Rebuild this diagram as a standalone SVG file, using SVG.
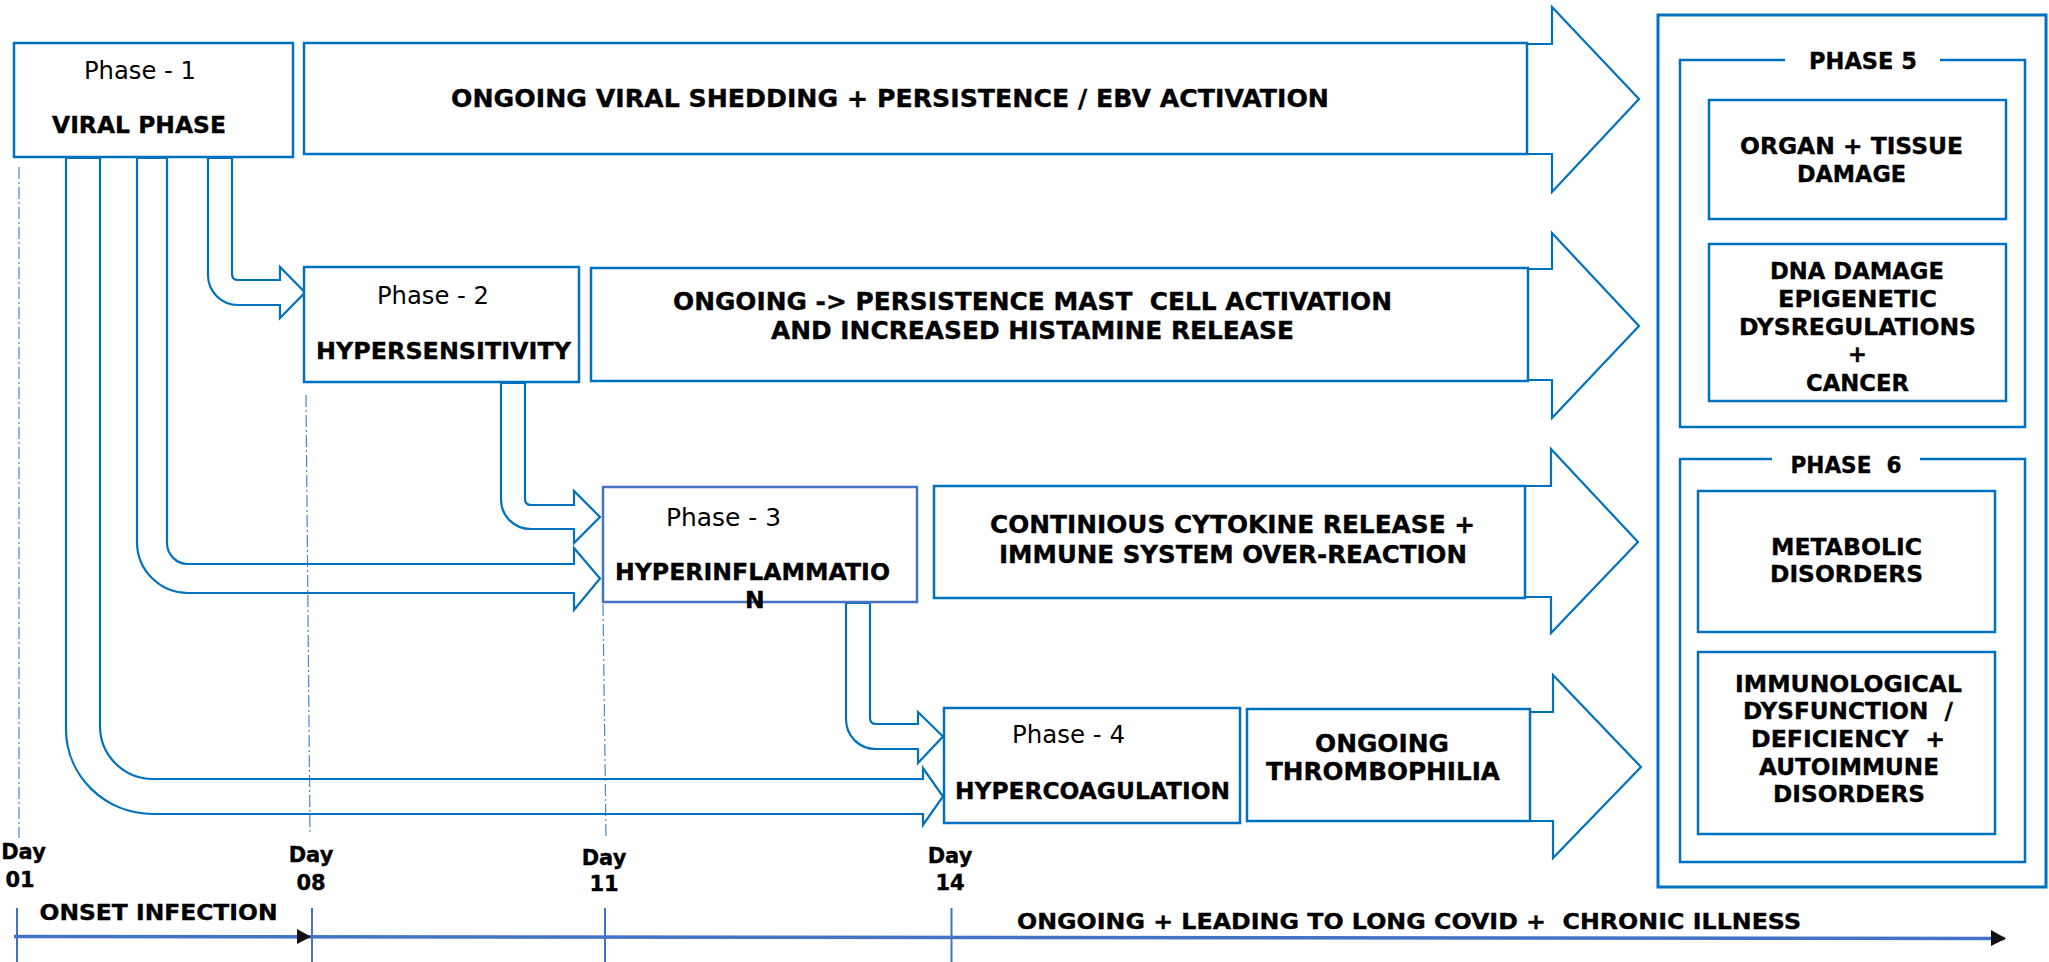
<svg xmlns="http://www.w3.org/2000/svg" width="2049" height="962" viewBox="0 0 2049 962">
<style>
.box{fill:#fff;stroke:#0070C0;stroke-width:2.5}
.box3{fill:#fff;stroke:#4472C4;stroke-width:2.5}
.grp{fill:none;stroke:#0070C0;stroke-width:2.5}
.conn{fill:none;stroke:#0070C0;stroke-width:2.2;stroke-linejoin:miter}
.guide{stroke:#4a86c8;stroke-width:1.2;stroke-dasharray:12 3 2 3;fill:none}
.tl{stroke:#4472C4;stroke-width:3.5;fill:none}
.tick{stroke:#4472C4;stroke-width:2}
text{font-family:"DejaVu Sans",Verdana,sans-serif;fill:#000}
.ph{font-size:24px}
.b,.bn,.r,.t,.d{font-weight:bold;stroke:#000;stroke-width:0.35}
.b{font-size:23.5px}
.bn{font-size:24.5px;text-anchor:middle}
.r{font-size:23px;text-anchor:middle}
.t{font-size:21px}
.d{font-size:21px;text-anchor:middle}
</style>

<!-- guides -->
<g id="guides">
<line class="guide" x1="19" y1="167" x2="19" y2="838"/>
<line class="guide" x1="306" y1="395" x2="310" y2="833"/>
<line class="guide" x1="603" y1="604" x2="606" y2="837"/>
</g>

<!-- connectors -->
<g id="connectors">
<path class="conn" d="M208 158 L232 158 L232 274 Q232 280 238 280 L280 280 L280 267 L305 292.5 L280 318 L280 305 L238 305 C221.4 305 208 291.6 208 275 Z"/>
<path class="conn" d="M501 383 L525 383 L525 499 Q525 505 531 505 L574 505 L574 491 L600 517 L574 543 L574 529 L531 529 C514 529 501 516 501 499 Z"/>
<path class="conn" d="M846 603 L870 603 L870 718 Q870 724 876 724 L918 724 L918 712 L943 736.5 L918 763 L918 749 L876 749 C859 749 846 736 846 719 Z"/>
<path class="conn" d="M137 158 L167 158 L167 543 C167 554.6 176.4 564 188 564 L574 564 L574 548 L600 578.5 L574 610 L574 593 L188 593 C159.8 593 137 570.2 137 542 Z"/>
<path class="conn" d="M66 158 L100 158 L100 726 C100 755.3 123.7 779 153 779 L923 779 L923 768 L943 796.5 L923 825 L923 814 L153 814 C105 814 66 776 66 729 Z"/>
<path class="conn" d="M1527 44 L1552 44 L1552 7 L1639 99 L1552 192 L1552 154 L1527 154"/>
<path class="conn" d="M1528 269 L1552 269 L1552 233 L1639 326 L1552 418 L1552 380 L1528 380"/>
<path class="conn" d="M1525 486 L1551 486 L1551 449 L1638 542 L1551 633 L1551 597 L1525 597"/>
<path class="conn" d="M1530 712 L1553 712 L1553 675 L1641 767 L1553 858 L1553 821 L1530 821"/>
</g>

<!-- phase 1 -->
<g id="phase1">
<rect class="box" x="14" y="43" width="279" height="114"/>
<text class="ph" x="84" y="79" textLength="112" lengthAdjust="spacingAndGlyphs">Phase - 1</text>
<text class="b" x="52" y="133" textLength="174" lengthAdjust="spacingAndGlyphs">VIRAL PHASE</text>
</g>
<g id="banner1">
<rect class="box" x="304" y="43" width="1223" height="111"/>
<text class="bn" x="890" y="107" textLength="878" lengthAdjust="spacingAndGlyphs">ONGOING VIRAL SHEDDING + PERSISTENCE / EBV ACTIVATION</text>
</g>

<!-- phase 2 -->
<g id="phase2">
<rect class="box" x="304" y="267" width="275" height="115"/>
<text class="ph" x="377" y="304" textLength="112" lengthAdjust="spacingAndGlyphs">Phase - 2</text>
<text class="b" x="316" y="359" textLength="255" lengthAdjust="spacingAndGlyphs">HYPERSENSITIVITY</text>
</g>
<g id="banner2">
<rect class="box" x="591" y="268" width="937" height="113"/>
<text class="bn" xml:space="preserve" x="1032.5" y="310" textLength="719" lengthAdjust="spacingAndGlyphs">ONGOING -&gt; PERSISTENCE MAST  CELL ACTIVATION</text>
<text class="bn" x="1032.5" y="339" textLength="523" lengthAdjust="spacingAndGlyphs">AND INCREASED HISTAMINE RELEASE</text>
</g>

<!-- phase 3 -->
<g id="phase3">
<rect class="box3" x="603" y="487" width="314" height="115"/>
<text class="ph" x="666" y="526" textLength="115" lengthAdjust="spacingAndGlyphs">Phase - 3</text>
<text class="b" x="615" y="580" textLength="275" lengthAdjust="spacingAndGlyphs">HYPERINFLAMMATIO</text>
<text class="b" x="745" y="608">N</text>
</g>
<g id="banner3">
<rect class="box" x="934" y="486" width="591" height="112"/>
<text class="bn" x="1232.5" y="533" textLength="485" lengthAdjust="spacingAndGlyphs">CONTINIOUS CYTOKINE RELEASE +</text>
<text class="bn" x="1233" y="563" textLength="468" lengthAdjust="spacingAndGlyphs">IMMUNE SYSTEM OVER-REACTION</text>
</g>

<!-- phase 4 -->
<g id="phase4">
<rect class="box" x="944" y="708" width="296" height="115"/>
<text class="ph" x="1012" y="743" textLength="113" lengthAdjust="spacingAndGlyphs">Phase - 4</text>
<text class="b" x="955" y="799" textLength="275" lengthAdjust="spacingAndGlyphs">HYPERCOAGULATION</text>
</g>
<g id="banner4">
<rect class="box" x="1247" y="709" width="283" height="112"/>
<text class="bn" x="1382" y="752" textLength="134" lengthAdjust="spacingAndGlyphs">ONGOING</text>
<text class="bn" x="1383" y="780" textLength="234" lengthAdjust="spacingAndGlyphs">THROMBOPHILIA</text>
</g>

<!-- outcomes -->
<g id="outcomes">
<rect class="grp" x="1658" y="15" width="388" height="872" style="stroke-width:3"/>
</g>
<g id="phase5">
<path class="grp" d="M1785 60 L1680 60 L1680 427 L2025 427 L2025 60 L1940 60"/>
<text class="r" x="1863" y="69" textLength="108" lengthAdjust="spacingAndGlyphs">PHASE 5</text>
<g id="organ">
<rect class="box" x="1709" y="100" width="297" height="119"/>
<text class="r" x="1851.5" y="154" textLength="223" lengthAdjust="spacingAndGlyphs">ORGAN + TISSUE</text>
<text class="r" x="1851.5" y="182" textLength="109" lengthAdjust="spacingAndGlyphs">DAMAGE</text>
</g>
<g id="dna">
<rect class="box" x="1709" y="244" width="297" height="157"/>
<text class="r" x="1857" y="279" textLength="174" lengthAdjust="spacingAndGlyphs">DNA DAMAGE</text>
<text class="r" x="1857.5" y="307" textLength="159" lengthAdjust="spacingAndGlyphs">EPIGENETIC</text>
<text class="r" x="1857.5" y="335" textLength="237" lengthAdjust="spacingAndGlyphs">DYSREGULATIONS</text>
<text class="r" x="1857.5" y="362">+</text>
<text class="r" x="1857.5" y="391" textLength="103" lengthAdjust="spacingAndGlyphs">CANCER</text>
</g>
</g>
<g id="phase6">
<path class="grp" d="M1772 459 L1680 459 L1680 862 L2025 862 L2025 459 L1920 459"/>
<text class="r" xml:space="preserve" x="1846" y="473" textLength="111" lengthAdjust="spacingAndGlyphs">PHASE  6</text>
<g id="metabolic">
<rect class="box" x="1698" y="491" width="297" height="141"/>
<text class="r" x="1846.5" y="555" textLength="151" lengthAdjust="spacingAndGlyphs">METABOLIC</text>
<text class="r" x="1846.5" y="582" textLength="153" lengthAdjust="spacingAndGlyphs">DISORDERS</text>
</g>
<g id="immuno">
<rect class="box" x="1698" y="652" width="297" height="182"/>
<text class="r" x="1848.5" y="692" textLength="227" lengthAdjust="spacingAndGlyphs">IMMUNOLOGICAL</text>
<text class="r" xml:space="preserve" x="1848" y="719" textLength="210" lengthAdjust="spacingAndGlyphs">DYSFUNCTION  /</text>
<text class="r" xml:space="preserve" x="1848" y="747" textLength="194" lengthAdjust="spacingAndGlyphs">DEFICIENCY  +</text>
<text class="r" x="1849" y="775" textLength="180" lengthAdjust="spacingAndGlyphs">AUTOIMMUNE</text>
<text class="r" x="1849" y="802" textLength="152" lengthAdjust="spacingAndGlyphs">DISORDERS</text>
</g>
</g>

<!-- timeline -->
<g id="timeline">
<line class="tick" x1="17" y1="908" x2="17" y2="962"/>
<line class="tick" x1="312" y1="908" x2="312" y2="962"/>
<line class="tick" x1="605" y1="908" x2="605" y2="962"/>
<line class="tick" x1="951.5" y1="908" x2="951.5" y2="962"/>
<line class="tl" x1="14" y1="936.5" x2="2005" y2="938.5"/>
<path d="M297 929 L311 936.8 L297 944 Z" fill="#111"/>
<path d="M1991 930 L2006 938.5 L1991 946 Z" fill="#111"/>
<text class="t" x="39.5" y="920" textLength="238" lengthAdjust="spacingAndGlyphs">ONSET INFECTION</text>
<text class="t" xml:space="preserve" x="1017" y="929" textLength="784" lengthAdjust="spacingAndGlyphs">ONGOING + LEADING TO LONG COVID +  CHRONIC ILLNESS</text>
<text class="d" x="23.5" y="859">Day</text>
<text class="d" x="20" y="887">01</text>
<text class="d" x="311" y="862">Day</text>
<text class="d" x="311" y="890">08</text>
<text class="d" x="604" y="865">Day</text>
<text class="d" x="604" y="891">11</text>
<text class="d" x="950" y="863">Day</text>
<text class="d" x="950" y="890">14</text>
</g>
</svg>
